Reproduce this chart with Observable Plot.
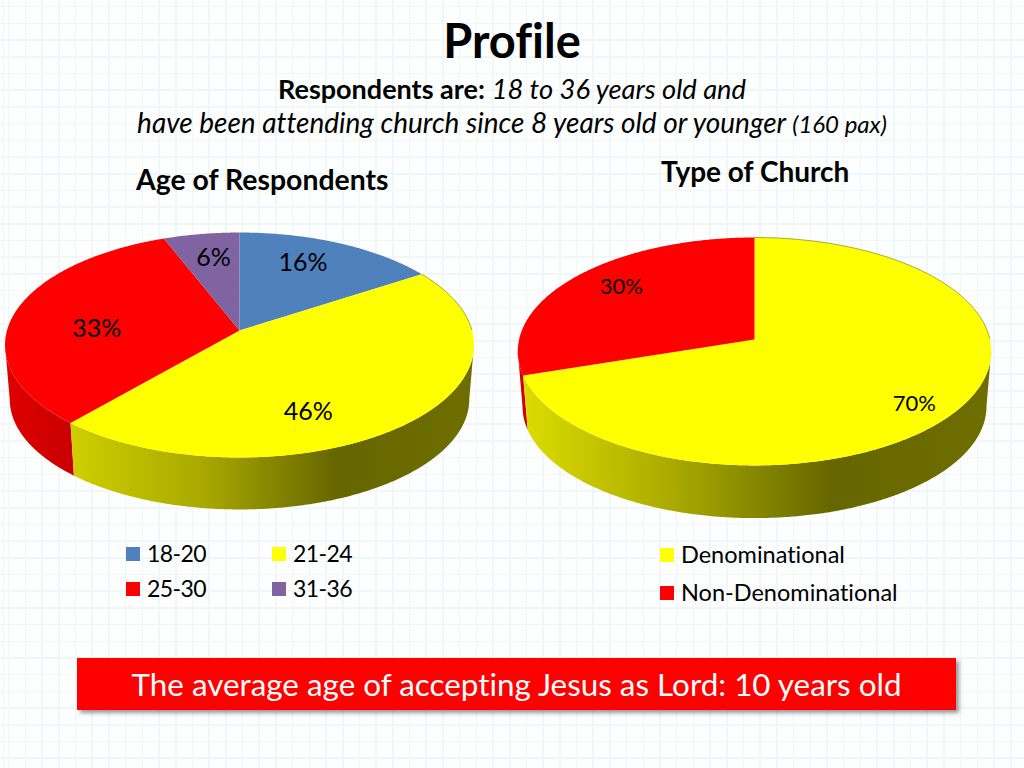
<!DOCTYPE html>
<html>
<head>
<meta charset="utf-8">
<script src="https://cdn.jsdelivr.net/npm/d3@7"></script>
<script src="https://cdn.jsdelivr.net/npm/@observablehq/plot@0.6"></script>
<style>
html,body{margin:0;padding:0;width:1024px;height:768px;overflow:hidden;}
body{position:relative;font-family:Lato,"Open Sans",sans-serif;color:#000;font-variant-ligatures:none;
background-color:#fdfefe;
background-image:
 repeating-linear-gradient(to right,#f1f6f9 0,#f1f6f9 1.5px,transparent 1.5px,transparent 16.7px),
 repeating-linear-gradient(to bottom,#f1f6f9 0,#f1f6f9 1.5px,transparent 1.5px,transparent 16.7px);
background-position:8px 6px;}
.t{position:absolute;white-space:nowrap;line-height:1;}
.sw{position:absolute;width:14px;height:14px;}
.chart{position:absolute;}
.chart svg{display:block;background:transparent!important;}
#banner{position:absolute;left:77px;top:658px;width:879px;height:52px;background:#ff0000;box-shadow:3px 3px 4px rgba(70,70,70,.55);
color:#fff;font-size:31.4px;text-align:center;line-height:53px;}
</style>
</head>
<body>
<div class="t" style="left:0;width:1024px;text-align:center;top:17px;font-size:47px;font-weight:700;">Profile</div>
<div class="t" style="left:0;width:1024px;text-align:center;top:75px;font-size:27px;"><b>Respondents are:</b> <i style="font-size:27.3px">18 to 36 years old and</i></div>
<div class="t" style="left:0;width:1024px;text-align:center;top:108px;font-size:28px;"><i>have been attending church since 8 years old or younger <span style="font-size:24px">(160 pax)</span></i></div>
<div class="t" style="left:136px;top:165px;font-size:28.4px;font-weight:700;">Age of Respondents</div>
<div class="t" style="left:661px;top:157px;font-size:28px;font-weight:700;">Type of Church</div>
<div id="left" class="chart" style="left:0;top:220px"></div>
<div id="right" class="chart" style="left:500px;top:220px"></div>
<div id="legends"></div>
<div id="banner">The average age of accepting Jesus as Lord: 10 years old</div>
<script>
// ---- data
const ageCategories = ["18-20", "21-24", "25-30", "31-36"];
const ageValues = [16, 46, 33, 6];
const churchCategories = ["Denominational", "Non-Denominational"];
const churchValues = [70, 30];

// ---- styles
const palette = {"18-20":"#4f81bd","21-24":"#ffff00","25-30":"#ff0000","31-36":"#8064a2",
  "Denominational":"#ffff00","Non-Denominational":"#ff0000"};

// ---- layout: perspective of each disc and where its labels sit (degrees clockwise from top, fraction of radius)
const leftLayout = {id:"left", w:490, h:300, ax:239, ay:110, A:232.5, B:110.6, k:0.129, s:0.98, dz:54.5,
  labelDeg:[24,158.2,271,350.4], labelR:[.73,.728,.615,.731], labelSize:25, yellowStart:"#cfcf00"};
const rightLayout = {id:"right", w:510, h:310, ax:254, ay:119, A:235.4, B:112.7, k:0.105, s:0.98, dz:55.2,
  labelDeg:[130.3,309.7], labelR:[.84,.773], labelSize:22, yellowStart:"#dcdc00"};

function pieChart(categories, values, L) {
  const project = (deg, r, lower) => {
    const a = deg * Math.PI / 180, u = r * Math.sin(a), v = r * Math.cos(a), d = 1 + L.k * v;
    const s = lower ? L.s : 1;
    return {x: s * L.A * u / d, y: s * -L.B * v / d + (lower ? L.dz : 0)};
  };
  const arcs = d3.pie().sort(null).value(d => d)(values);
  const deg = r => r * 180 / Math.PI;
  // the wall shows only between the two points where the rim is widest
  const wallFrom = deg(Math.acos(-L.k)), wallTo = 360 - wallFrom;
  const tops = [], walls = [], rims = [];
  arcs.forEach((arc, i) => {
    const cat = categories[i], a0 = deg(arc.startAngle), a1 = deg(arc.endAngle);
    const steps = d3.range(a0, a1, 0.5).concat(a1);
    tops.push({cat, ...project(0, 0)});
    steps.forEach(t => tops.push({cat, ...project(t, 1)}));
    const w0 = Math.max(a0, wallFrom), w1 = Math.min(a1, wallTo);
    if (w1 > w0) {
      const wallSteps = d3.range(w0, w1, 0.5).concat(w1);
      wallSteps.forEach(t => walls.push({cat, ...project(t, 1)}));
      wallSteps.slice().reverse().forEach(t => walls.push({cat, ...project(t, 1, true)}));
    }
    if (palette[cat] === "#ffff00") steps.filter(t => t < 90 || t > 270).forEach(t => rims.push({cat, ...project(t, 1)}));
  });
  const labels = categories.map((cat, i) => ({
    text: `${values[i]}%`, ...project(L.labelDeg[i], L.labelR[i])
  }));
  const yellowWall = walls.filter(d => palette[d.cat] === "#ffff00");
  const redWall = walls.filter(d => palette[d.cat] === "#ff0000");
  const defs = () => {
    const svgDefs = d3.create("svg:defs");
    const grad = (id, stops) => {
      const g = svgDefs.append("linearGradient").attr("id", id);
      stops.forEach(([o, c]) => g.append("stop").attr("offset", o).attr("stop-color", c));
    };
    grad(L.id + "Y", [[0, L.yellowStart], [0.33, "#a8a800"], [0.66, "#666600"], [1, "#6e6e00"]]);
    grad(L.id + "R", [[0, "#e00000"], [1, "#c80000"]]);
    return svgDefs.node();
  };
  const chart = Plot.plot({
    width: L.w, height: L.h, margin: 0,
    style: {background: "transparent"},
    x: {axis: null, domain: [-L.ax, L.w - L.ax], range: [0, L.w]},
    y: {axis: null, domain: [-L.ay, L.h - L.ay], range: [0, L.h]},
    color: {domain: Object.keys(palette), range: Object.values(palette)},
    marks: [
      defs,
      Plot.line(redWall, {x: "x", y: "y", fill: `url(#${L.id}R)`, stroke: "none"}),
      Plot.line(yellowWall, {x: "x", y: "y", fill: `url(#${L.id}Y)`, stroke: "none"}),
      Plot.line(tops, {x: "x", y: "y", z: "cat", fill: "cat", stroke: "none"}),
      Plot.line(rims, {x: "x", y: "y", stroke: "#8f8f20", strokeWidth: 0.8}),
      Plot.text(labels, {x: "x", y: "y", text: "text", fontSize: L.labelSize, fill: "#000", fontFamily: "Lato"})
    ]
  });
  document.getElementById(L.id).appendChild(chart);
}
pieChart(ageCategories, ageValues, leftLayout);
pieChart(churchCategories, churchValues, rightLayout);

// ---- legends
const legendItems = [
  ["18-20",126,547,147,542],["21-24",272,547,293,542],
  ["25-30",126,582,147,577],["31-36",272,582,293,577],
  ["Denominational",660,548,681,543],["Non-Denominational",660,586,681,581]
];
const host = document.getElementById("legends");
legendItems.forEach(([name, sx, sy, tx, ty]) => {
  const sw = document.createElement("div"); sw.className = "sw";
  sw.style.cssText = `left:${sx}px;top:${sy}px;background:${palette[name]}`;
  const t = document.createElement("div"); t.className = "t"; t.textContent = name;
  const numeric = /^\d/.test(name);
  t.style.cssText = `left:${tx}px;top:${ty}px;font-size:${numeric ? 23 : 23.5}px;${numeric ? "letter-spacing:-.6px" : ""}`;
  host.append(sw, t);
});
</script>
</body>
</html>
